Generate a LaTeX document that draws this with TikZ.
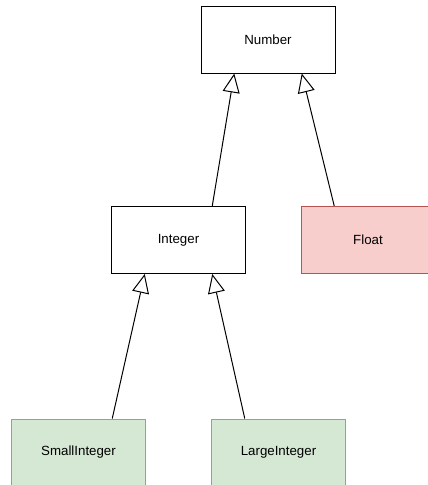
\documentclass[tikz,border=0pt]{standalone}
\usepackage{fontspec}
\setmainfont{Liberation Sans}
\usepackage{tikz}
\usetikzlibrary{arrows.meta}
\usetikzlibrary{calc}
\definecolor{redfill}{HTML}{F8CECC}
\definecolor{reddraw}{HTML}{B85450}
\definecolor{greenfill}{HTML}{D5E8D4}
\definecolor{greendraw}{HTML}{82B366}
\tikzset{
every class/.style={ % Sets the properties for each class box
draw, line width=1pt,
fill=white,
minimum width=134pt, minimum height=67pt,
inner sep=0pt,
font=\fontsize{13.3}{16}\selectfont},
class/.style={every class},
redclass/.style={every class, fill=redfill, draw=reddraw}, % Red box
greenclass/.style={every class, fill=greenfill, draw=greendraw}, % Green box
inherit/.style={ % Generalization arrows with open triangle heads
draw, line width=1pt,
-{Triangle[open, fill=white, length=19pt, width=17pt]}}}

\begin{document}
\begin{tikzpicture}[x=1pt, y=-1pt]
					\useasboundingbox (0,0) rectangle (428,485);

					\node[class] (number) at (268,39.5) {Number};
					\node[class] (integer) at (178.5,240) {Integer};
					\node[redclass] (float) at (368,240) {Float};
					\node[greenclass] (smallint) at (78.5,452.5) {SmallInteger};
					\node[greenclass] (largeint) at (278.5,452.5) {LargeInteger};

					\draw[inherit] ($(integer.north west)!0.75!(integer.north east)$) -- ($(number.south west)!0.25!(number.south east)$);
					\draw[inherit] ($(float.north west)!0.25!(float.north east)$) -- ($(number.south west)!0.75!(number.south east)$);
					\draw[inherit] ($(smallint.north west)!0.75!(smallint.north east)$) -- ($(integer.south west)!0.25!(integer.south east)$);
					\draw[inherit] ($(largeint.north west)!0.25!(largeint.north east)$) -- ($(integer.south west)!0.75!(integer.south east)$);
				\end{tikzpicture}
\end{document}
